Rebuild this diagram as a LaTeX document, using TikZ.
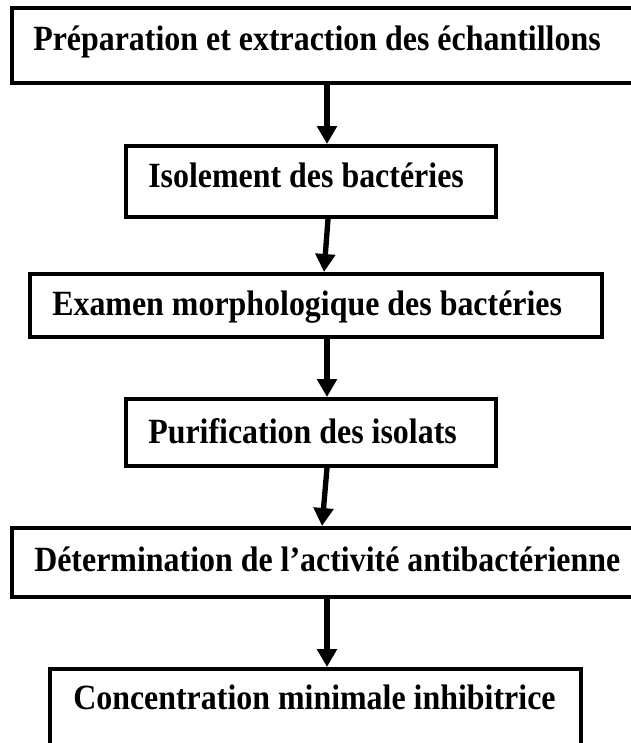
\documentclass[tikz,border=0pt]{standalone}
\usepackage{fontspec}
\setmainfont{Liberation Serif}
\newfontfamily\stepfont[FakeStretch=0.9]{Liberation Serif}
\usetikzlibrary{arrows.meta,fit}

\tikzset{
  x=0.75pt, y=-0.75pt,
  stepbox/.style={draw=black, line width=3pt, inner sep=0pt, fill=none},
  steptext/.style={anchor=base west, inner sep=0pt, font=\stepfont\bfseries\fontsize{26.6pt}{30pt}\selectfont},
  flow/.style={line width=4pt, -{Triangle[length=13.5pt,width=14.5pt]}},
}

\begin{document}
\begin{tikzpicture}
  \useasboundingbox (0,0) rectangle (631,743);
  \clip (0,0) rectangle (631,743);
  \fill[white] (0,0) rectangle (631,743);

  % step frames
  \node[stepbox, fit={(12,8) (660,83)}]   (b1) {};
  \node[stepbox, fit={(126,146) (496,217)}] (b2) {};
  \node[stepbox, fit={(30,274) (602,337)}]  (b3) {};
  \node[stepbox, fit={(126,399) (496,466)}] (b4) {};
  \node[stepbox, fit={(12,528) (660,597)}]  (b5) {};
  \node[stepbox, fit={(50,669) (581,770)}]  (b6) {};

  % step titles
  \node[steptext] (t1) at (33,50)  {Préparation et extraction des échantillons};
  \node[steptext] (t2) at (148,187) {Isolement des bactéries};
  \node[steptext] (t3) at (52,315)  {Examen morphologique des bactéries};
  \node[steptext] (t4) at (148,443) {Purification des isolats};
  \node[steptext] (t5) at (34,571)  {Détermination de l’activité antibactérienne};
  \node[steptext] (t6) at (73,709)  {Concentration minimale inhibitrice};

  % arrow columns
  \coordinate (c1) at (327,0);
  \coordinate (c2a) at (328,0);
  \coordinate (c2b) at (324,0);
  \coordinate (c4a) at (327,0);
  \coordinate (c4b) at (322,0);

  \draw[flow] (b1.south -| c1)  -- (b2.north -| c1);
  \draw[flow] (b2.south -| c2a) -- (b3.north -| c2b);
  \draw[flow] (b3.south -| c1)  -- (b4.north -| c1);
  \draw[flow] (b4.south -| c4a) -- (b5.north -| c4b);
  \draw[flow] (b5.south -| c1)  -- (b6.north -| c1);
\end{tikzpicture}
\end{document}
